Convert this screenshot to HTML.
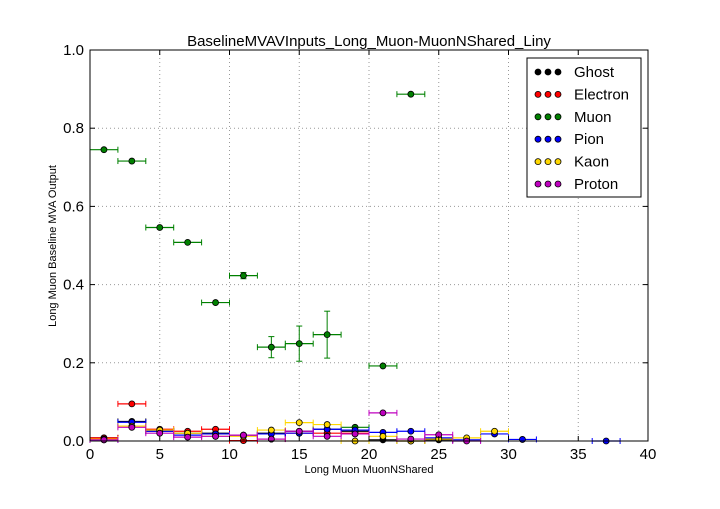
<!DOCTYPE html>
<html><head><meta charset="utf-8"><style>
body{margin:0;background:#fff;font-family:"Liberation Sans",sans-serif}
svg text{font-family:"Liberation Sans",sans-serif}
</style></head><body>
<svg id="chart" width="720" height="504" xmlns="http://www.w3.org/2000/svg">
<rect width="720" height="504" fill="#fff"/>
<g id="grid"></g><g id="marks"></g>
<rect x="90" y="50" width="558" height="391" fill="none" stroke="#000" stroke-width="1"/>
<g id="axes"></g>
<text x="369" y="46" text-anchor="middle" font-size="15">BaselineMVAVInputs_Long_Muon-MuonNShared_Liny</text>
<text x="369" y="473" text-anchor="middle" font-size="11">Long Muon MuonNShared</text>
<text x="56" y="246" text-anchor="middle" font-size="11" transform="rotate(-90 56 246)">Long Muon Baseline MVA Output</text>
<g id="legend"></g>
</svg>
<script>
const binCenters=[1,3,5,7,9,11,13,15,17,19,21,23,25,27,29,31,33,35,37,39];
const ghost=[0.008,0.050,0.025,0.020,0.020,0.015,0.020,0.025,0.030,0.025,0.003,0.0,0.003,null,null,null,null,null,null,null];
const electron=[0.008,0.095,0.030,0.025,0.030,0.001,0.005,0.020,0.020,0.020,null,null,null,null,null,null,null,null,null,null];
const muon=[0.745,0.716,0.546,0.508,0.354,0.423,0.240,0.249,0.272,0.035,0.192,0.887,null,null,null,null,null,null,null,null];
const muonErr=[0.004,0.005,0.005,0.005,0.005,0.008,0.027,0.045,0.060,0.005,0.005,0.005,0,0,0,0,0,0,0,0];
const pion=[0.003,0.048,0.025,0.015,0.018,0.015,0.018,0.020,0.030,0.028,0.022,0.025,0.008,0.003,0.018,0.004,null,null,0.0,null];
const kaon=[0.005,0.038,0.028,0.020,0.012,0.012,0.028,0.047,0.042,0.0,0.012,0.0,0.005,0.008,0.025,null,null,null,null,null];
const proton=[0.003,0.035,0.020,0.010,0.012,0.015,0.005,0.025,0.012,0.018,0.072,0.005,0.016,0.0,null,null,null,null,null,null];
const xTicks=[0,5,10,15,20,25,30,35,40];
const yTicks=[0.0,0.2,0.4,0.6,0.8,1.0];
const seriesNames=["Ghost","Electron","Muon","Pion","Kaon","Proton"];
const seriesColors=["#000000","#ff0000","#008000","#0000ff","#ffd700","#bf00bf"];
const seriesData=[ghost,electron,muon,pion,kaon,proton];
const X0=90,X1=648,Y0=441,Y1=50;
const sx=v=>X0+(v-0)/(40-0)*(X1-X0);
const sy=v=>Y0-(v-0)/(1-0)*(Y0-Y1);
const NS="http://www.w3.org/2000/svg";
function mk(t,a,p){const e=document.createElementNS(NS,t);for(const k in a)e.setAttribute(k,a[k]);p.appendChild(e);return e;}
const grid=document.getElementById('grid'),axes=document.getElementById('axes'),marks=document.getElementById('marks'),leg=document.getElementById('legend');
xTicks.forEach(t=>{const x=sx(t);
 if(t>0&&t<40){const g=mk('line',{x1:x,x2:x,y1:Y1,y2:Y0,stroke:'#999','stroke-dasharray':'1,3'},grid);}
 mk('line',{x1:x,x2:x,y1:Y0,y2:Y0-5,stroke:'#000'},axes);mk('line',{x1:x,x2:x,y1:Y1,y2:Y1+5,stroke:'#000'},axes);
 const l=mk('text',{x:x,y:Y0+18,'text-anchor':'middle','font-size':15},axes);l.textContent=t;
 });
yTicks.forEach(t=>{const y=sy(t);
 if(t>0&&t<1){const g=mk('line',{x1:X0,x2:X1,y1:y,y2:y,stroke:'#999','stroke-dasharray':'1,3'},grid);}
 mk('line',{x1:X0,x2:X0+5,y1:y,y2:y,stroke:'#000'},axes);mk('line',{x1:X1,x2:X1-5,y1:y,y2:y,stroke:'#000'},axes);
 const l=mk('text',{x:X0-6,y:y+5,'text-anchor':'end','font-size':15},axes);l.textContent=t.toFixed(1);
 });
seriesData.forEach((arr,si)=>{const c=seriesColors[si];
 const g=mk('g',{},marks);
 arr.forEach((v,i)=>{if(v===null)return;const xc=binCenters[i];const y=sy(v);
  mk('line',{x1:sx(xc-1),x2:sx(xc+1),y1:y,y2:y,stroke:c,'stroke-width':1.2},g);
  mk('line',{x1:sx(xc-1),x2:sx(xc-1),y1:y-3,y2:y+3,stroke:c},g);
  mk('line',{x1:sx(xc+1),x2:sx(xc+1),y1:y-3,y2:y+3,stroke:c},g);
  if(si===2){const e=muonErr[i];if(e>0.006){mk('line',{x1:sx(xc),x2:sx(xc),y1:sy(v+e),y2:sy(v-e),stroke:c},g);
   mk('line',{x1:sx(xc)-3,x2:sx(xc)+3,y1:sy(v+e),y2:sy(v+e),stroke:c},g);mk('line',{x1:sx(xc)-3,x2:sx(xc)+3,y1:sy(v-e),y2:sy(v-e),stroke:c},g);}}
  const p=mk('circle',{cx:sx(xc),cy:y,r:3,fill:c,stroke:'#000','stroke-width':0.8},g);
  });});
const lb=mk('rect',{x:527,y:58,width:114,height:139,fill:'#fff',stroke:'#000'},leg);

seriesNames.forEach((n,i)=>{const y=72+i*22.4;
 const ge=mk('g',{},leg);
 [538,548,558].forEach(x=>mk('circle',{cx:x,cy:y,r:3,fill:seriesColors[i],stroke:'#000','stroke-width':0.8},ge));
 const t=mk('text',{x:574,y:y+5,'font-size':15},ge);t.textContent=n;});
</script>
</body></html>
